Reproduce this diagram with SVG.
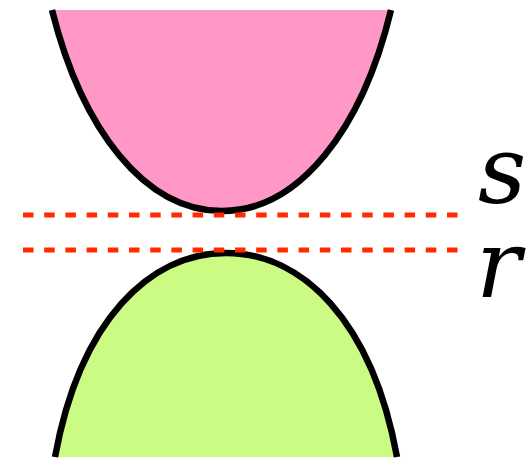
<svg xmlns="http://www.w3.org/2000/svg" width="528" height="458" viewBox="0 0 528 458">
<style>
.curve{stroke:#000;stroke-width:6.5;stroke-linecap:butt}
.dash{stroke:#ff2a00;stroke-width:5;stroke-dasharray:10.5 10.7;fill:none}
.lbl{font-family:'DejaVu Serif',serif;font-style:italic;font-size:94px;fill:#000}
</style>
<rect width="528" height="458" fill="#fff"/>
<g id="top-region">
<path class="curve" fill="#ff97c7" d="M52,10 C82,130 145,211 222,211 C299,211 362,130 391,10"/>
</g>
<g id="bottom-region">
<path class="curve" fill="#ccfb84" d="M55,457 C80,320 150,253 226,253 C302,253 372,320 397,457"/>
</g>
<g id="connectors">
<line class="dash" x1="23" y1="215" x2="460" y2="215"/>
<line class="dash" x1="23" y1="250" x2="460" y2="250"/>
</g>
<g id="labels">
<text class="lbl" x="478" y="203">s</text>
<text class="lbl" x="476" y="297">r</text>
</g>
</svg>
